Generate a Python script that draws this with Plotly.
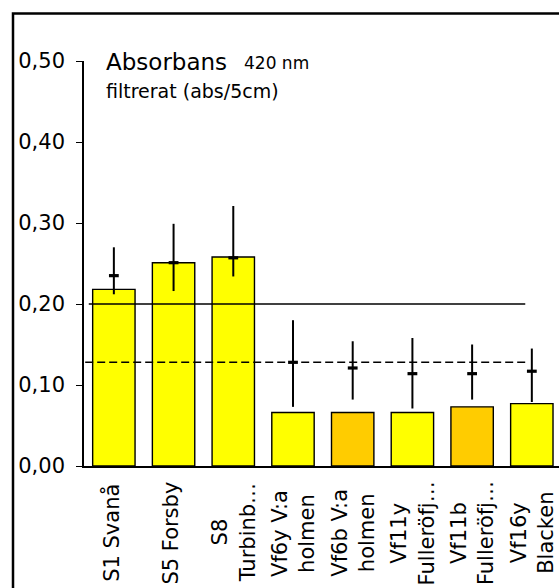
import plotly.graph_objects as go

# ---- data ----
categories = ["S1 Svanå", "S5 Forsby", "S8<br>Turbinb…", "Vf6y V:a<br>holmen",
              "Vf6b V:a<br>holmen", "Vf11y<br>Fulleröfj…", "Vf11b<br>Fulleröfj…", "Vf16y<br>Blacken"]
bar_values = [0.218, 0.251, 0.258, 0.066, 0.066, 0.066, 0.073, 0.077]
bar_colors = ["#FFFF00", "#FFFF00", "#FFFF00", "#FFFF00", "#FFCC00", "#FFFF00", "#FFCC00", "#FFFF00"]
mean_values = [0.235, 0.251, 0.257, 0.128, 0.121, 0.114, 0.114, 0.117]
err_high = [0.270, 0.299, 0.321, 0.180, 0.154, 0.158, 0.150, 0.145]
err_low = [0.212, 0.216, 0.234, 0.073, 0.082, 0.071, 0.082, 0.079]
ref_solid = 0.20
ref_dashed = 0.128
y_ticks = [0.0, 0.1, 0.2, 0.3, 0.4, 0.5]

FONT = "DejaVu Sans"
W, H = 559, 588
L, R, T, B = 84, 0, 61, 122
pw, ph = W - L - R, H - T - B

def px_x(p):
    return (p - L) / pw

def px_y(p):
    return (H - B - p) / ph

idx = list(range(len(categories)))

fig = go.Figure()
fig.add_trace(go.Bar(
    x=idx, y=bar_values,
    marker=dict(color=bar_colors, line=dict(color="black", width=1.4)),
    width=0.71, showlegend=False, hoverinfo="skip",
))
fig.add_trace(go.Scatter(
    x=idx, y=mean_values, mode="markers",
    marker=dict(symbol="line-ew", size=7, line=dict(color="black", width=3.2)),
    error_y=dict(type="data", symmetric=False,
                 array=[h - m for h, m in zip(err_high, mean_values)],
                 arrayminus=[m - l for l, m in zip(err_low, mean_values)],
                 color="black", thickness=2, width=0),
    showlegend=False, hoverinfo="skip",
))

shapes = [
    dict(type="line", xref="x", yref="y", x0=-0.42, x1=6.89, y0=ref_solid, y1=ref_solid,
         line=dict(color="black", width=1.4)),
    dict(type="line", xref="x", yref="y", x0=-0.48, x1=6.94, y0=ref_dashed, y1=ref_dashed,
         line=dict(color="black", width=1.5, dash="8px,4px")),
    dict(type="rect", xref="paper", yref="paper", x0=px_x(13), x1=px_x(W + 20),
         y0=px_y(H + 20), y1=px_y(13.5), line=dict(color="black", width=2.5),
         fillcolor="rgba(0,0,0,0)"),
]

annotations = []
for i, c in enumerate(categories):
    annotations.append(dict(
        x=i, xref="x", y=0, yref="paper", yanchor="middle", yshift=-(533 - (H - B)),
        xshift=-3 if "<br>" not in c else 0,
        text=c, textangle=-90, showarrow=False, align="center",
        font=dict(family=FONT, size=21, color="black"),
    ))
annotations += [
    dict(x=px_x(104), xref="paper", y=px_y(62), yref="paper", xanchor="left", yanchor="middle",
         text="Absorbans", showarrow=False, font=dict(family=FONT, size=23, color="black")),
    dict(x=px_x(242), xref="paper", y=px_y(63), yref="paper", xanchor="left", yanchor="middle",
         text="420 nm", showarrow=False, font=dict(family=FONT, size=17, color="black")),
    dict(x=px_x(104), xref="paper", y=px_y(91), yref="paper", xanchor="left", yanchor="middle",
         text="filtrerat (abs/5cm)", showarrow=False, font=dict(family=FONT, size=19, color="black")),
]

fig.update_layout(
    width=W, height=H,
    margin=dict(l=L, r=R, t=T, b=B, pad=0),
    paper_bgcolor="white", plot_bgcolor="white",
    separators=", ",
    bargap=0.29,
    shapes=shapes, annotations=annotations,
    font=dict(family=FONT, color="black"),
    xaxis=dict(range=[-0.5, -0.5 + pw / 59.71], showticklabels=False, ticks="",
               showgrid=False, zeroline=False, showline=True, linecolor="black", linewidth=1.6),
    yaxis=dict(range=[0, 0.5], tickvals=y_ticks, tickformat=".2f", ticks="outside",
               ticklen=6, tickwidth=1.4, tickcolor="black", showgrid=False, zeroline=False,
               showline=True, linecolor="black", linewidth=1.6,
               tickfont=dict(family=FONT, size=21, color="black"), ticklabelstandoff=7),
)

fig.write_html("out.html", config={"displayModeBar": False},
               post_script="document.body.style.margin='0';document.body.style.overflow='hidden';")
